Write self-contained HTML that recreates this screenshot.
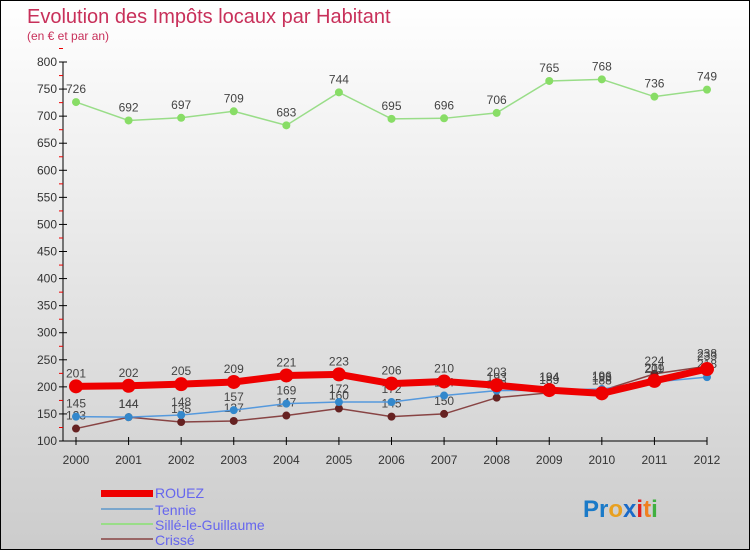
<!DOCTYPE html>
<html><head><meta charset="utf-8"><style>
body{margin:0}
#c{position:relative;width:748px;height:548px;border:1px solid #000;background:linear-gradient(#fff,#ccc);font-family:"Liberation Sans",sans-serif;overflow:hidden}
</style></head><body>
<div id="c">
<svg id="s" width="748" height="548" style="position:absolute;left:0;top:0">
<text x="26" y="22" font-size="20" fill="#c8305a">Evolution des Impôts locaux par Habitant</text>
<text x="26" y="39" font-size="12" fill="#c8305a">(en € et par an)</text>
<g id="ax"></g><g id="ser"></g>
<g>
<rect x="100" y="489" width="52" height="7" fill="#e00"/>
<text x="154" y="497" font-size="14" fill="#6666ee">ROUEZ</text>
<rect x="100" y="507" width="52" height="2" fill="#7aa6cc"/>
<text x="154" y="514" font-size="14" fill="#6666ee">Tennie</text>
<rect x="100" y="522" width="52" height="2" fill="#99dd88"/>
<text x="154" y="529" font-size="14" fill="#6666ee">Sillé-le-Guillaume</text>
<rect x="100" y="537" width="52" height="2" fill="#996666"/>
<text x="154" y="544" font-size="14" fill="#6666ee">Crissé</text>
</g>
<text x="582" y="516" font-size="24" font-weight="bold"><tspan fill="#1a7ac8">Pr</tspan><tspan fill="#e8a020">o</tspan><tspan fill="#1a6ac8">x</tspan><tspan fill="#e02020">i</tspan><tspan fill="#f08020">t</tspan><tspan fill="#40b040">i</tspan></text>
</svg>
</div>
<script>
const years=[2000,2001,2002,2003,2004,2005,2006,2007,2008,2009,2010,2011,2012];
const yTicks=[100,150,200,250,300,350,400,450,500,550,600,650,700,750,800];
const rouez=[201,202,205,209,221,223,206,210,203,194,188,211,233];
const tennie=[145,144,148,157,169,172,172,184,193,194,196,209,218];
const sille=[726,692,697,709,683,744,695,696,706,765,768,736,749];
const crisse=[123,144,135,137,147,160,145,150,180,189,193,224,238];
const NS="http://www.w3.org/2000/svg";
const X=i=>75+i*(706-75)/(years.length-1);
const Y=v=>440-(v-100)*(440-61)/700;
function mk(t,a,p){const e=document.createElementNS(NS,t);for(const k in a)e.setAttribute(k,a[k]);p.appendChild(e);return e;}
const ax=document.getElementById('ax');
let l=mk('line',{x1:62,y1:61,x2:62,y2:440,stroke:'#000'},ax);

l=mk('line',{x1:62,y1:440,x2:706,y2:440,stroke:'#000'},ax);

yTicks.forEach(v=>{const y=Y(v);
 mk('line',{x1:58,y1:y,x2:66,y2:y,stroke:'#000'},ax);
 mk('line',{x1:58,y1:y-13.5,x2:62,y2:y-13.5,stroke:'#e00'},ax);
 const t=mk('text',{x:56,y:y+4,'font-size':12,fill:'#333','text-anchor':'end'},ax);t.textContent=v;
 });
years.forEach((yr,i)=>{const x=X(i);
 mk('line',{x1:x,y1:436,x2:x,y2:444,stroke:'#000'},ax);
 const t=mk('text',{x:x,y:463,'font-size':12,fill:'#333','text-anchor':'middle'},ax);t.textContent=yr;
 });
const ser=document.getElementById('ser');
function draw(data,name,col,w,r,dot){
 const g=mk('g',{},ser);
 mk('polyline',{points:data.map((v,i)=>X(i)+','+Y(v)).join(' '),fill:'none',stroke:col,'stroke-width':w},g);
 data.forEach((v,i)=>{const c=mk('circle',{cx:X(i),cy:Y(v),r:r,fill:dot},g);
  
  const t=mk('text',{x:X(i),y:Y(v)-9,'font-size':12,fill:'#444','text-anchor':'middle'},g);t.textContent=v;
  });
}
draw(sille,'sille','#99dd88',1.5,4,'#88dd66');
draw(crisse,'crisse','#884444',1.5,4,'#662222');
draw(tennie,'tennie','#5599dd',1.5,4,'#3388cc');
draw(rouez,'rouez','#ee0000',7,7,'#ee0000');
</script>
</body></html>
